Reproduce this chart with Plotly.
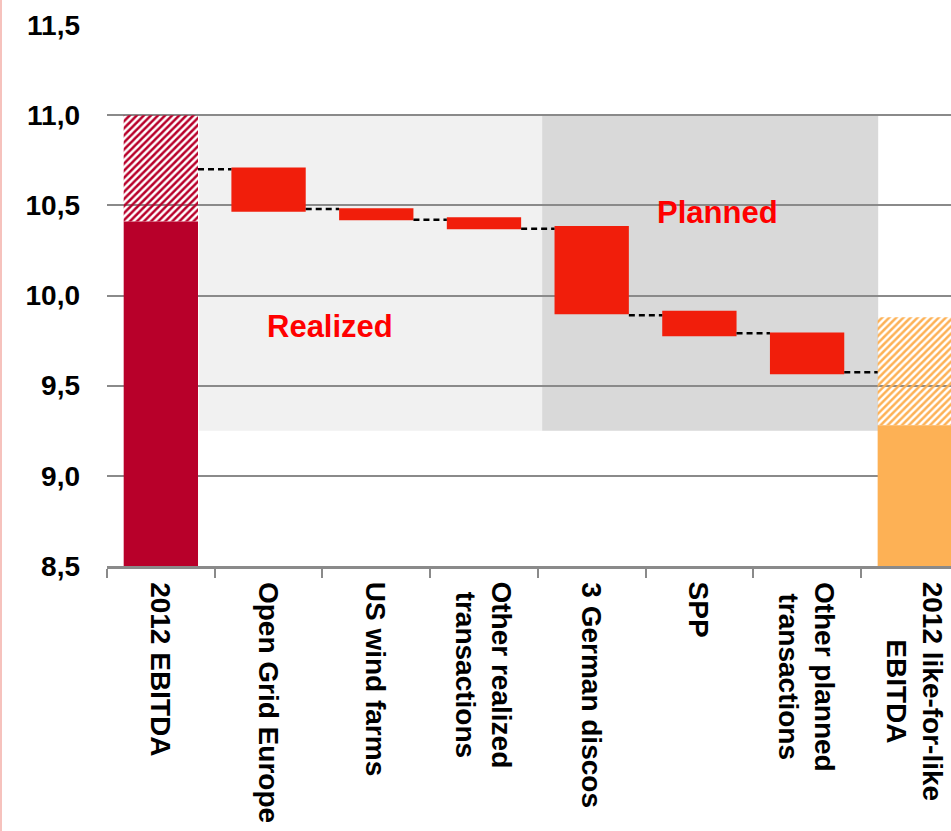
import plotly.graph_objects as go

# ---------------- data ----------------
categories = ["2012 EBITDA", "Open Grid Europe", "US wind farms",
              "Other realized transactions", "3 German discos", "SPP",
              "Other planned transactions", "2012 like-for-like EBITDA"]
tick_labels = ["2012 EBITDA", "Open Grid Europe", "US wind farms",
               "Other realized<br>transactions", "3 German discos", "SPP",
               "Other planned<br>transactions", "2012 like-for-like<br>EBITDA"]

total_cats = [categories[0], categories[7]]
total_solid = [10.41, 9.28]          # solid part of the total bars
total_hatched = [11.00, 9.88]        # top of hatched part

step_cats = categories[1:7]
step_high = [10.71, 10.484, 10.434, 10.386, 9.916, 9.795]
step_low = [10.465, 10.417, 10.368, 9.896, 9.774, 9.564]

connector_levels = [10.70, 10.48, 10.42, 10.37, 9.89, 9.79, 9.575]

y_min = 8.5
y_ticks = [8.5, 9.0, 9.5, 10.0, 10.5, 11.0, 11.5]

region_labels = ["Realized", "Planned"]

# ---------------- styles ----------------
CRIMSON = "#b8002a"
ORANGE = "#fdb155"
RED = "#f11e0b"
BAR_W = 0.69
FONT = "Liberation Sans, Arial"

fig = go.Figure()

# solid part of totals
fig.add_trace(go.Bar(
    x=total_cats, y=[v - y_min for v in total_solid], base=[y_min, y_min],
    width=BAR_W, marker=dict(color=[CRIMSON, ORANGE], line=dict(width=0)),
    hoverinfo="skip", showlegend=False))

# hatched part of totals
fig.add_trace(go.Bar(
    x=total_cats, y=[h - s for h, s in zip(total_hatched, total_solid)],
    base=total_solid, width=BAR_W,
    marker=dict(color=[CRIMSON, ORANGE], line=dict(width=0),
                pattern=dict(shape="/", bgcolor="white", size=5, solidity=0.5,
                             fillmode="replace")),
    hoverinfo="skip", showlegend=False))

# waterfall steps
fig.add_trace(go.Bar(
    x=step_cats, y=[h - l for h, l in zip(step_high, step_low)], base=step_low,
    width=BAR_W, marker=dict(color=RED, line=dict(width=0)),
    hoverinfo="skip", showlegend=False))

shapes = []
# background regions
shapes.append(dict(type="rect", xref="x", yref="y", x0=0.355, x1=3.54, y0=9.25, y1=11.0,
                   fillcolor="#f1f1f1", line=dict(width=0), layer="below"))
shapes.append(dict(type="rect", xref="x", yref="y", x0=3.54, x1=6.66, y0=9.25, y1=11.0,
                   fillcolor="#d9d9d9", line=dict(width=0), layer="below"))

# connectors
for i, lvl in enumerate(connector_levels):
    shapes.append(dict(type="line", xref="x", yref="y",
                       x0=i + BAR_W / 2, x1=i + 1 - BAR_W / 2, y0=lvl, y1=lvl,
                       line=dict(color="black", width=2.5, dash="6px,4px"), layer="above"))

# slide border on the left edge
shapes.append(dict(type="line", xref="paper", yref="paper",
                   x0=(1 - 107) / 844, x1=(1 - 107) / 844, y0=(566 - 831) / 541, y1=(566 - 0) / 541,
                   line=dict(color="#f6c2bd", width=2), layer="above"))

annotations = []
for c, t in zip(categories, tick_labels):
    annotations.append(dict(x=c, xref="x", y=0, yref="paper", text="<b>%s</b>" % t.replace("<br>", "</b><br><b>"),
                            showarrow=False,
                            textangle=90, xanchor="center", yanchor="top", align="center",
                            yshift=-14,
                            font=dict(family=FONT, size=28, color="black")))
annotations.append(dict(x=1.57, y=9.826, xref="x", yref="y", text="<b>%s</b>" % region_labels[0],
                        showarrow=False,
                        font=dict(family=FONT, size=31, color="#ff0000")))
annotations.append(dict(x=5.17, y=10.458, xref="x", yref="y", text="<b>%s</b>" % region_labels[1],
                        showarrow=False,
                        font=dict(family=FONT, size=31, color="#ff0000")))

fig.update_layout(
    width=951, height=831,
    margin=dict(l=107, r=0, t=25, b=265, pad=0),
    paper_bgcolor="white", plot_bgcolor="white",
    barmode="overlay",
    separators=",.",
    shapes=shapes, annotations=annotations,
    showlegend=False,
    font=dict(family=FONT, color="black"),
)
fig.update_xaxes(
    type="category", categoryorder="array", categoryarray=categories,
    range=[-0.5, 7.336], showgrid=False, zeroline=False,
    showline=True, linecolor="#8a8a8a", linewidth=3,
    ticks="outside", tickson="boundaries", ticklen=9, tickwidth=2, tickcolor="#8a8a8a",
    showticklabels=False, fixedrange=True)
fig.update_yaxes(
    range=[8.5, 11.5], tickvals=y_ticks, tickformat=".1f",
    showgrid=True, gridcolor="#8a8a8a", gridwidth=2,
    zeroline=False, showline=False, ticks="",
    ticklabelstandoff=26,
    tickfont=dict(family=FONT, size=28, color="black", weight="bold"),
    fixedrange=True)

fig.write_html("out.html")
